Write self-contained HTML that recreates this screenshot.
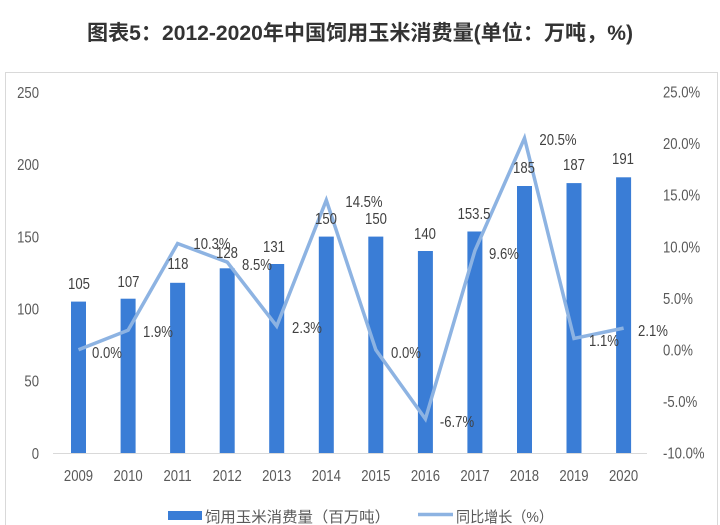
<!DOCTYPE html>
<html>
<head>
<meta charset="utf-8">
<style>
  html, body { margin:0; padding:0; background:#ffffff; }
  body { width:720px; height:525px; overflow:hidden; }
  svg { display:block; }
  .ax { font-family:"Liberation Sans","Noto Sans CJK SC",sans-serif; font-size:16px; fill:#595959; }
  .dl { font-family:"Liberation Sans","Noto Sans CJK SC",sans-serif; font-size:16px; fill:#404040; }
  .cj { font-family:"Liberation Sans","Noto Sans CJK SC",sans-serif; font-size:15px; fill:#595959; }
  .tt { font-family:"Liberation Sans","Noto Sans CJK SC",sans-serif; font-size:21px; font-weight:bold; fill:#333333; }
</style>
</head>
<body>
<svg width="720" height="525" viewBox="0 0 720 525" xmlns="http://www.w3.org/2000/svg">
  <rect x="0" y="0" width="720" height="525" fill="#ffffff"/>
  <!-- Title -->
  <text class="tt" x="87" y="40" textLength="546" lengthAdjust="spacingAndGlyphs">图表5：2012-2020年中国饲用玉米消费量(单位：万吨，%)</text>

  <!-- Chart border -->
  <rect x="5.5" y="72.5" width="712" height="470" fill="none" stroke="#d9d9d9" stroke-width="1"/>

  <!-- Left axis labels (right aligned at x=39) -->
  <g class="ax" text-anchor="end">
    <text transform="translate(39,97.8) scale(0.82,1)">250</text>
    <text transform="translate(39,170) scale(0.82,1)">200</text>
    <text transform="translate(39,242.3) scale(0.82,1)">150</text>
    <text transform="translate(39,314.5) scale(0.82,1)">100</text>
    <text transform="translate(39,386.7) scale(0.82,1)">50</text>
    <text transform="translate(39,459) scale(0.82,1)">0</text>
  </g>

  <!-- Right axis labels (left aligned at x=663) -->
  <g class="ax" text-anchor="start">
    <text transform="translate(663,97.5) scale(0.82,1)">25.0%</text>
    <text transform="translate(663,149.1) scale(0.82,1)">20.0%</text>
    <text transform="translate(663,200.7) scale(0.82,1)">15.0%</text>
    <text transform="translate(663,252.3) scale(0.82,1)">10.0%</text>
    <text transform="translate(663,303.9) scale(0.82,1)">5.0%</text>
    <text transform="translate(663,355.5) scale(0.82,1)">0.0%</text>
    <text transform="translate(663,407.1) scale(0.82,1)">-5.0%</text>
    <text transform="translate(663,458.7) scale(0.82,1)">-10.0%</text>
  </g>

  <!-- Bars -->
  <g fill="#3a7dd6">
    <rect x="71"    y="301.6" width="15" height="151.7"/>
    <rect x="120.6" y="298.7" width="15" height="154.6"/>
    <rect x="170.1" y="282.8" width="15" height="170.5"/>
    <rect x="219.7" y="268.3" width="15" height="185.0"/>
    <rect x="269.2" y="264.0" width="15" height="189.3"/>
    <rect x="318.8" y="236.6" width="15" height="216.7"/>
    <rect x="368.3" y="236.6" width="15" height="216.7"/>
    <rect x="417.9" y="251.0" width="15" height="202.3"/>
    <rect x="467.4" y="231.5" width="15" height="221.8"/>
    <rect x="517.0" y="186.0" width="15" height="267.3"/>
    <rect x="566.5" y="183.1" width="15" height="270.2"/>
    <rect x="616.1" y="177.3" width="15" height="276.0"/>
  </g>

  <!-- Baseline -->
  <line x1="53" y1="453.5" x2="647" y2="453.5" stroke="#d9d9d9" stroke-width="1"/>

  <!-- Growth line -->
  <polyline fill="none" stroke="#8db3e2" stroke-width="3.5" stroke-linejoin="miter"
    points="78.5,349.8 128.1,330.2 177.6,243.5 227.2,262.1 276.7,326.1 326.3,200.2 375.8,349.8 425.4,419.0 474.9,250.7 524.5,138.2 574.0,338.5 623.6,328.1"/>

  <!-- Year labels -->
  <g class="ax" text-anchor="middle">
    <text transform="translate(78.5,481) scale(0.82,1)">2009</text>
    <text transform="translate(128.1,481) scale(0.82,1)">2010</text>
    <text transform="translate(177.6,481) scale(0.82,1)">2011</text>
    <text transform="translate(227.2,481) scale(0.82,1)">2012</text>
    <text transform="translate(276.7,481) scale(0.82,1)">2013</text>
    <text transform="translate(326.3,481) scale(0.82,1)">2014</text>
    <text transform="translate(375.8,481) scale(0.82,1)">2015</text>
    <text transform="translate(425.4,481) scale(0.82,1)">2016</text>
    <text transform="translate(474.9,481) scale(0.82,1)">2017</text>
    <text transform="translate(524.5,481) scale(0.82,1)">2018</text>
    <text transform="translate(574.0,481) scale(0.82,1)">2019</text>
    <text transform="translate(623.6,481) scale(0.82,1)">2020</text>
  </g>

  <!-- Bar value labels -->
  <g class="dl" text-anchor="middle">
    <text transform="translate(79,289) scale(0.82,1)">105</text>
    <text transform="translate(128.5,287) scale(0.82,1)">107</text>
    <text transform="translate(178,269) scale(0.82,1)">118</text>
    <text transform="translate(227,258) scale(0.82,1)">128</text>
    <text transform="translate(274,252) scale(0.82,1)">131</text>
    <text transform="translate(326,224) scale(0.82,1)">150</text>
    <text transform="translate(376,224) scale(0.82,1)">150</text>
    <text transform="translate(425,239) scale(0.82,1)">140</text>
    <text transform="translate(474,219) scale(0.82,1)">153.5</text>
    <text transform="translate(524,173) scale(0.82,1)">185</text>
    <text transform="translate(574,170) scale(0.82,1)">187</text>
    <text transform="translate(623,164) scale(0.82,1)">191</text>
  </g>

  <!-- Percent labels -->
  <g class="dl" text-anchor="middle">
    <text transform="translate(107,358) scale(0.82,1)">0.0%</text>
    <text transform="translate(158,337) scale(0.82,1)">1.9%</text>
    <text transform="translate(212,249) scale(0.82,1)">10.3%</text>
    <text transform="translate(257,270) scale(0.82,1)">8.5%</text>
    <text transform="translate(307,333) scale(0.82,1)">2.3%</text>
    <text transform="translate(364,207) scale(0.82,1)">14.5%</text>
    <text transform="translate(406,358) scale(0.82,1)">0.0%</text>
    <text transform="translate(457,427) scale(0.82,1)">-6.7%</text>
    <text transform="translate(504,259) scale(0.82,1)">9.6%</text>
    <text transform="translate(558,145) scale(0.82,1)">20.5%</text>
    <text transform="translate(604,346) scale(0.82,1)">1.1%</text>
    <text transform="translate(653,336) scale(0.82,1)">2.1%</text>
  </g>

  <!-- Legend -->
  <rect x="168" y="511" width="34" height="9" fill="#3a7dd6"/>
  <text class="cj" x="205" y="522" textLength="185" lengthAdjust="spacingAndGlyphs">饲用玉米消费量（百万吨）</text>
  <line x1="418" y1="514.5" x2="453" y2="514.5" stroke="#8db3e2" stroke-width="3.5"/>
  <text class="cj" x="456" y="522" textLength="97" lengthAdjust="spacingAndGlyphs">同比增长（%）</text>
</svg>
</body>
</html>
